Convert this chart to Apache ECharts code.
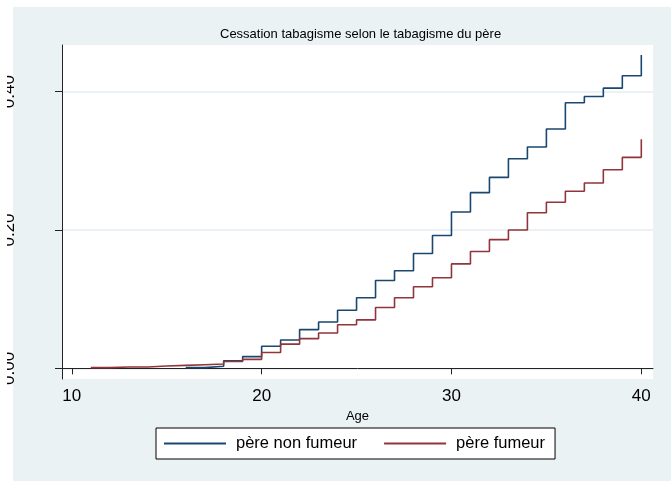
<!DOCTYPE html>
<html>
<head>
<meta charset="utf-8">
<script src="https://cdn.jsdelivr.net/npm/echarts@6/dist/echarts.min.js"></script>
<style>
  html, body { margin: 0; padding: 0; background: #fff; }
  #chart-div { width: 671px; height: 481px; }
</style>
</head>
<body>
<div id="chart-div"></div>
<script>
// survival-type step curves, value holds from age a to a+1
const blueStartAge = 16;
const blueValues = [0.001, 0.003, 0.011, 0.017, 0.032, 0.041, 0.056, 0.067, 0.084, 0.102,
  0.127, 0.141, 0.166, 0.192, 0.226, 0.254, 0.276, 0.303, 0.320, 0.346,
  0.384, 0.393, 0.405, 0.423, 0.453];
const redStartAge = 11;
const redValues = [0.001, 0.0019, 0.0019, 0.0033, 0.0043, 0.0053, 0.0062, 0.010, 0.013, 0.023,
  0.035, 0.043, 0.051, 0.063, 0.070, 0.088, 0.102, 0.118, 0.131, 0.151,
  0.169, 0.186, 0.200, 0.225, 0.240, 0.256, 0.268, 0.287, 0.305, 0.331];
const xTicks = [10, 20, 30, 40];
const yTicks = [0, 0.2, 0.4];
const seriesNames = ['père non fumeur', 'père fumeur'];
const blue = '#1a476f';
const red = '#90353b';

const toPairs = (start, vals) => vals.map((v, i) => [start + i, v]);

var myChart = echarts.init(document.getElementById('chart-div'));
const font = 'Liberation Sans, Arial, sans-serif';

myChart.setOption({
  backgroundColor: '#fff',
  animation: false,
  graphic: [
    {
      type: 'rect',
      z: -10,
      shape: { x: 13, y: 7, width: 671, height: 481 },
      style: { fill: '#eaf2f3' },
    },
    {
      // the left margin cuts the rotated y labels like in the source
      type: 'rect',
      z: 100,
      shape: { x: 0, y: 0, width: 7, height: 481 },
      style: { fill: '#fff' },
    },
  ],
  title: {
    text: 'Cessation tabagisme selon le tabagisme du père',
    left: 220,
    top: 28,
    padding: 0,
    textStyle: { fontFamily: font, fontSize: 13, fontWeight: 'normal', color: '#000' },
  },
  legend: {
    left: 156,
    top: 428,
    padding: [6, 10, 6, 8],
    itemGap: 27,
    itemWidth: 62,
    itemHeight: 2,
    borderColor: '#000',
    borderWidth: 1,
    backgroundColor: '#fff',
    textStyle: { fontFamily: font, fontSize: 16.5, color: '#000', lineHeight: 19, padding: [0, 0, 0, 5] },
    data: seriesNames.map(n => ({ name: n, icon: 'rect' })),
  },
  grid: {
    left: 62,
    right: 18,
    top: 45,
    bottom: 102,
    show: true,
    backgroundColor: '#fff',
    borderWidth: 0,
  },
  xAxis: {
    type: 'value',
    min: 9.484,
    max: 40.616,
    name: 'Age',
    nameLocation: 'middle',
    nameGap: 26,
    nameTextStyle: { fontFamily: font, fontSize: 13, color: '#000' },
    axisLine: { show: true, lineStyle: { color: '#222', width: 1 } },
    axisTick: { show: true, length: 6, customValues: xTicks, lineStyle: { color: '#222' } },
    axisLabel: { customValues: xTicks, margin: 9, fontFamily: font, fontSize: 17, color: '#000' },
    splitLine: { show: false },
  },
  yAxis: {
    type: 'value',
    min: -0.0154,
    max: 0.4674,
    axisLine: { show: true, lineStyle: { color: '#222', width: 1 } },
    axisTick: { show: true, length: 7, customValues: yTicks, lineStyle: { color: '#222' } },
    axisLabel: {
      customValues: yTicks,
      rotate: 90,
      margin: 44,
      fontFamily: font,
      fontSize: 17,
      color: '#000',
      formatter: v => v.toFixed(2),
    },
    splitLine: { show: true, lineStyle: { color: '#e4edf0', width: 1.5 } },
  },
  series: [
    {
      name: seriesNames[0],
      type: 'line',
      step: 'end',
      symbol: 'none',
      color: blue,
      lineStyle: { color: blue, width: 1.6 },
      data: toPairs(blueStartAge, blueValues),
    },
    {
      name: seriesNames[1],
      type: 'line',
      step: 'end',
      symbol: 'none',
      color: red,
      lineStyle: { color: red, width: 1.6 },
      data: toPairs(redStartAge, redValues),
    },
  ],
});
</script>
</body>
</html>
